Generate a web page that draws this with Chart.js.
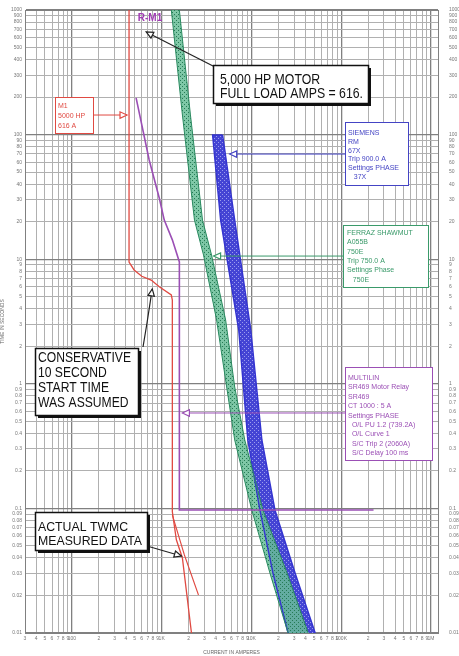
<!DOCTYPE html>
<html>
<head>
<meta charset="utf-8">
<script src="https://cdn.jsdelivr.net/npm/chart.js@4.4.0/dist/chart.umd.min.js"></script>
<style>
html, body { margin: 0; padding: 0; background: #fff; }
</style>
</head>
<body>
<canvas id="tcc" width="459" height="656"></canvas>
<script>
// values, as [amps, seconds]
var ampRange = [30, 1200000];
var timeRange = [0.01, 1000];

var motorStart = [[433,1000],[433,9.5],[493,8.2],[600,7.3],[764,6.8],[940,6.0],[1281,5.16],[1315,4.7],[1315,0.094],[1458,0.056],[1702,0.040],[2148,0.01]];
var motorMeasured = [[1315,0.0885],[1792,0.0423],[2572,0.0202]];
var relayR1 = [[519,197],[726,62.5],[940,31],[1069,20.6],[1315,14.3],[1575,9.5],[1575,0.097],[229600,0.097]];
var fuseMin = [[1281,1000],[1702,144],[2321,20.6],[2927,10.8],[4094,3.25],[5299,0.943],[6515,0.354],[10104,0.0971],[16080,0.0303],[25595,0.01]];
var fuseMax = [[1575,1000],[2092,144],[2852,20.6],[3597,10.8],[5164,3.25],[6515,0.943],[8433,0.354],[13425,0.0971],[24944,0.0303],[42890,0.01]];
var breakerLo = [[4780,99.3],[3693,99.3],[4539,20.6],[7223,2.70],[9113,0.354],[12420,0.0971],[17380,0.0303],[25595,0.01]];
var breakerHi = [[4780,99.3],[6515,20.6],[9847,2.70],[13084,0.354],[18295,0.0971],[30660,0.0303],[51380,0.01]];

var red = '#e04a42', purple = '#9b4fb5', green = '#2a8a60', blue = '#3434d0';

function pts(list) {
    return list.map(function (p) { return {x: p[0], y: p[1]}; });
}

function dotPattern(bg, dot) {
    var c = document.createElement('canvas');
    c.width = 4; c.height = 4;
    var g = c.getContext('2d');
    g.fillStyle = bg; g.fillRect(0, 0, 4, 4);
    g.fillStyle = dot; g.fillRect(0, 0, 1, 1); g.fillRect(2, 2, 1, 1);
    return g.createPattern(c, 'repeat');
}

function sig(v) {
    var e = Math.floor(Math.log10(v) + 1e-9);
    return Math.round(v / Math.pow(10, e) * 1000) / 1000;
}

function gridColor(c) {
    if (!c.tick) return '#b0b0b0';
    var s = sig(c.tick.value);
    if (s % 1 !== 0) return 'rgba(0,0,0,0)';
    if (s === 1) return '#808080';
    return '#b0b0b0';
}

function gridWidth(c) {
    return c.tick && sig(c.tick.value) === 1 ? 1.3 : 1;
}

function timeLabel(v) {
    return sig(v) % 1 === 0 ? String(+v.toPrecision(6)) : '';
}

function ampLabel(v) {
    var s = sig(v);
    if (s % 1 !== 0) return '';
    if (s !== 1) return String(s);
    if (v >= 1000000) return (v / 1000000) + 'M';
    if (v >= 1000) return (v / 1000) + 'K';
    return String(v);
}

var tickFont = {size: 5, family: 'Liberation Sans'};

// text boxes (canvas pixels) and callout arrows (tips in data values)
var boxes = [
    {x: 213, y: 65, w: 155, h: 38, color: '#111', border: 1.5, shadow: true, size: 15, tx: 220, base: 84, gap: 14, textW: 143,
     lines: ['5,000 HP MOTOR', 'FULL LOAD AMPS = 616.']},
    {x: 35, y: 348, w: 103, h: 67, color: '#111', border: 1.5, shadow: true, size: 14, tx: 38, base: 362, gap: 15, textW: 93,
     lines: ['CONSERVATIVE', '10 SECOND', 'START TIME', 'WAS ASSUMED']},
    {x: 35, y: 512, w: 112, h: 38, color: '#111', border: 1.5, shadow: true, size: 13, tx: 38, base: 531, gap: 14, textW: 104,
     lines: ['ACTUAL TWMC', 'MEASURED DATA']},
    {x: 55, y: 97, w: 38, h: 36, color: red, border: 1, size: 7, tx: 58, base: 108, gap: 10, textW: 29,
     lines: ['M1', '5000 HP', '616 A']},
    {x: 345, y: 122, w: 63, h: 63, color: '#4444c4', border: 1, size: 7, tx: 348, base: 135, gap: 8.8, textW: 57,
     lines: ['SIEMENS', 'RM', '67X', 'Trip 900.0 A', 'Settings PHASE', '   37X']},
    {x: 343, y: 225, w: 85, h: 62, color: '#3a9a6a', border: 1, size: 7, tx: 347, base: 235, gap: 9.3, textW: 77,
     lines: ['FERRAZ SHAWMUT', 'A055B', '750E', 'Trip 750.0 A', 'Settings Phase', '   750E']},
    {x: 345, y: 367, w: 87, h: 93, color: purple, border: 1, size: 7, tx: 348, base: 380, gap: 9.4, textW: 79,
     lines: ['MULTILIN', 'SR469 Motor Relay', 'SR469', 'CT 1000 : 5 A', 'Settings PHASE', '  O/L PU 1.2 (739.2A)', '  O/L Curve 1', '  S/C Trip 2 (2060A)', '  S/C Delay 100 ms']}
];

var callouts = [
    {tip: [672, 666], from: [215, 67], color: '#222', width: 1.2},
    {tip: [411, 143.6], from: [93, 115], color: red, flat: true},
    {tip: [5725, 69.8], from: [345, 154], color: '#4444c4', flat: true},
    {tip: [3789, 10.6], from: [343, 256], color: '#3a9a6a', flat: true},
    {tip: [1702, 0.583], from: [345, 413], color: purple, flat: true},
    {tip: [785, 5.77], from: [143, 347], via: [147, 323], color: '#222', width: 1.2},
    {tip: [1658, 0.0415], from: [147, 546], color: '#222', width: 1.2}
];

function arrowHead(ctx, fx, fy, tx, ty, color) {
    var a = Math.atan2(ty - fy, tx - fx), len = 7, half = 3.2;
    var bx = tx - Math.cos(a) * len, by = ty - Math.sin(a) * len;
    ctx.beginPath();
    ctx.moveTo(tx, ty);
    ctx.lineTo(bx + Math.sin(a) * half, by - Math.cos(a) * half);
    ctx.lineTo(bx - Math.sin(a) * half, by + Math.cos(a) * half);
    ctx.closePath();
    ctx.fillStyle = '#fff'; ctx.fill();
    ctx.strokeStyle = color; ctx.lineWidth = 1.2; ctx.stroke();
}

function drawBox(ctx, b) {
    if (b.shadow) {
        ctx.fillStyle = '#111';
        ctx.fillRect(b.x + 3, b.y + 3, b.w, b.h);
    }
    ctx.fillStyle = '#fff';
    ctx.fillRect(b.x, b.y, b.w, b.h);
    ctx.strokeStyle = b.color; ctx.lineWidth = b.border;
    ctx.strokeRect(b.x + 0.5, b.y + 0.5, b.w, b.h);
    ctx.font = b.size + 'px "Liberation Sans", Arial, sans-serif';
    var widest = 0;
    b.lines.forEach(function (t) { widest = Math.max(widest, ctx.measureText(t).width); });
    var k = Math.min(1, b.textW / widest);
    ctx.fillStyle = b.color;
    ctx.textAlign = 'left'; ctx.textBaseline = 'alphabetic';
    b.lines.forEach(function (t, i) {
        ctx.save();
        ctx.translate(b.tx, b.base + i * b.gap);
        ctx.scale(k, 1);
        ctx.fillText(t, 0, 0);
        ctx.restore();
    });
}

var bandPlugin = {
    id: 'bands',
    beforeDatasetsDraw: function (chart) {
        var ctx = chart.ctx, a = chart.chartArea;
        ctx.save();
        ctx.beginPath();
        ctx.rect(a.left, a.top, a.right - a.left, a.bottom - a.top);
        ctx.clip();
        for (var i = chart.data.datasets.length - 1; i >= 0; i--) {
            var ds = chart.data.datasets[i];
            if (ds.bandTo === undefined) continue;
            var p = chart.getDatasetMeta(i).data, q = chart.getDatasetMeta(ds.bandTo).data;
            ctx.beginPath();
            p.forEach(function (e, k) { if (k) ctx.lineTo(e.x, e.y); else ctx.moveTo(e.x, e.y); });
            for (var k = q.length - 1; k >= 0; k--) ctx.lineTo(q[k].x, q[k].y);
            ctx.closePath();
            ctx.fillStyle = ds.bandFill;
            ctx.fill();
        }
        ctx.restore();
    }
};

var notesPlugin = {
    id: 'notes',
    afterDatasetsDraw: function (chart) {
        var ctx = chart.ctx, sx = chart.scales.x, sy = chart.scales.y;
        ctx.save();
        callouts.forEach(function (c) {
            var tx = sx.getPixelForValue(c.tip[0]), ty = sy.getPixelForValue(c.tip[1]);
            var fx = c.from[0], fy = c.flat ? ty : c.from[1];
            ctx.strokeStyle = c.color; ctx.lineWidth = c.width || 1;
            ctx.beginPath();
            ctx.moveTo(fx, fy);
            if (c.via) { ctx.lineTo(c.via[0], c.via[1]); fx = c.via[0]; fy = c.via[1]; }
            ctx.lineTo(tx, ty);
            ctx.stroke();
            arrowHead(ctx, fx, fy, tx, ty, c.color);
        });
        boxes.forEach(function (b) { drawBox(ctx, b); });

        // relay tag at the top of the sheet
        ctx.font = 'bold 10px "Liberation Sans", Arial, sans-serif';
        ctx.fillStyle = '#a03cb4';
        ctx.textAlign = 'center'; ctx.textBaseline = 'middle';
        ctx.fillText('R-M1', 150, 18);
        ctx.restore();
    }
};

var ctx = document.getElementById('tcc').getContext('2d');
var greenFill = dotPattern('rgba(105,190,152,0.85)', '#257a55');
var blueFill = dotPattern('#4444d4', '#9c9cee');

new Chart(ctx, {
    type: 'scatter',
    data: {
        datasets: [
            {label: 'M1 start', data: pts(motorStart), borderColor: red, borderWidth: 1.3},
            {label: 'M1 measured', data: pts(motorMeasured), borderColor: red, borderWidth: 1.1},
            {label: 'R-M1', data: pts(relayR1), borderColor: purple, borderWidth: 1.6},
            {label: 'Fuse min', data: pts(fuseMin), borderColor: green, borderWidth: 1},
            {label: 'Fuse max', data: pts(fuseMax), borderColor: green, borderWidth: 1, bandTo: 3, bandFill: greenFill},
            {label: 'Breaker lo', data: pts(breakerLo), borderColor: blue, borderWidth: 1.4},
            {label: 'Breaker hi', data: pts(breakerHi), borderColor: blue, borderWidth: 1.4, bandTo: 5, bandFill: blueFill}
        ]
    },
    options: {
        responsive: false,
        animation: false,
        layout: {padding: 0},
        showLine: true,
        elements: {point: {radius: 0}, line: {tension: 0, fill: false}},
        plugins: {legend: {display: false}, tooltip: {enabled: false}},
        scales: {
            x: {
                type: 'logarithmic', position: 'bottom', min: ampRange[0], max: ampRange[1],
                afterFit: function (s) { s.height = 23; },
                grid: {color: gridColor, lineWidth: gridWidth, drawTicks: false},
                border: {color: '#808080'},
                ticks: {autoSkip: false, maxRotation: 0, font: tickFont, color: '#777', padding: 3, callback: ampLabel},
                title: {display: true, text: 'CURRENT IN AMPERES', font: tickFont, color: '#666', padding: 0}
            },
            x2: {
                type: 'logarithmic', position: 'top', min: ampRange[0], max: ampRange[1],
                afterFit: function (s) { s.height = 10; },
                grid: {display: false},
                border: {color: '#808080'},
                ticks: {autoSkip: false, maxRotation: 0, font: tickFont, color: '#777', padding: 2, callback: ampLabel}
            },
            y: {
                type: 'logarithmic', position: 'left', min: timeRange[0], max: timeRange[1],
                afterFit: function (s) { s.width = 25; },
                grid: {color: gridColor, lineWidth: gridWidth, drawTicks: false},
                border: {color: '#808080'},
                ticks: {autoSkip: false, font: tickFont, color: '#777', padding: 3, callback: timeLabel},
                title: {display: true, text: 'TIME IN SECONDS', font: tickFont, color: '#666', padding: 0}
            },
            y2: {
                type: 'logarithmic', position: 'right', min: timeRange[0], max: timeRange[1],
                afterFit: function (s) { s.width = 21; },
                grid: {display: false},
                border: {color: '#808080'},
                ticks: {autoSkip: false, font: tickFont, color: '#777', padding: 3, callback: timeLabel}
            }
        }
    },
    plugins: [bandPlugin, notesPlugin]
});
</script>
</body>
</html>
